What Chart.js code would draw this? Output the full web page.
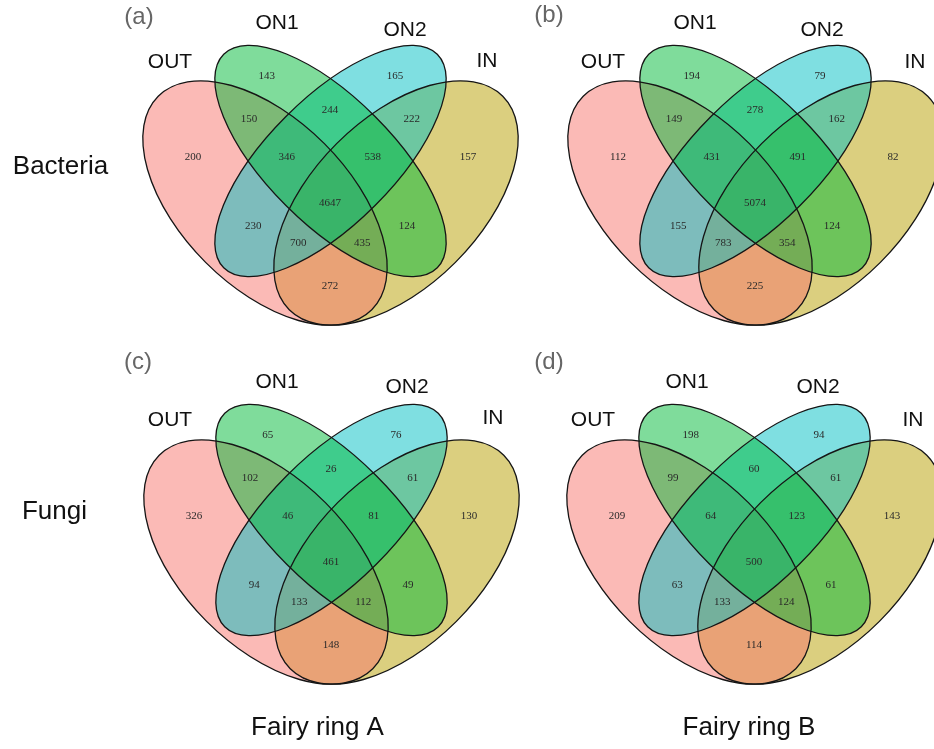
<!DOCTYPE html>
<html><head><meta charset="utf-8">
<script src="https://cdn.jsdelivr.net/npm/chart.js@4.4.1/dist/chart.umd.min.js"></script>
<style>html,body{margin:0;padding:0;background:#fff;}#wrap{position:relative;width:934px;height:749px;}</style>
</head><body><div id="wrap"><canvas id="c" width="934" height="749"></canvas></div>
<script>
// ---------------- data ----------------
const sets = ['OUT', 'ON1', 'ON2', 'IN'];
const regions = ['OUT', 'ON1', 'ON2', 'IN', 'OUT&ON1', 'ON1&ON2', 'ON2&IN',
  'OUT&ON1&ON2', 'ON1&ON2&IN', 'ALL', 'OUT&ON2', 'ON1&IN', 'OUT&ON2&IN', 'OUT&ON1&IN', 'OUT&IN'];
const bacteriaRingA = [200, 143, 165, 157, 150, 244, 222, 346, 538, 4647, 230, 124, 700, 435, 272];
const bacteriaRingB = [112, 194, 79, 82, 149, 278, 162, 431, 491, 5074, 155, 124, 783, 354, 225];
const fungiRingA = [326, 65, 76, 130, 102, 26, 61, 46, 81, 461, 94, 49, 133, 112, 148];
const fungiRingB = [209, 198, 94, 143, 99, 60, 61, 64, 123, 500, 63, 61, 133, 124, 114];
const rowLabels = ['Bacteria', 'Fungi'];
const colLabels = ['Fairy ring A', 'Fairy ring B'];
const panelTags = ['(a)', '(b)', '(c)', '(d)'];
const panelValues = [bacteriaRingA, bacteriaRingB, fungiRingA, fungiRingB];
const setColors = { OUT: '#F8766D', ON1: '#00BA38', ON2: '#00BFC4', IN: '#B79F00' };

// ---------------- layout (pixel units of the hidden 1:1 scales) ----------------
const PANEL_OFFSET = [[0, 0], [425, 0], [1, 359], [424, 359]];
const ELLIPSES = {
  OUT: { cx: 265, cy: 203, a: 151, b: 84, rot: 45 },
  ON1: { cx: 330.5, cy: 161, a: 151, b: 63, rot: 45 },
  ON2: { cx: 330.5, cy: 161, a: 151, b: 63, rot: -45 },
  IN:  { cx: 396, cy: 203, a: 151, b: 84, rot: -45 }
};
const DRAW_ORDER = ['IN', 'OUT', 'ON2', 'ON1'];
const REGION_POS = {
  'OUT': [193, 157.3], 'ON1': [266.7, 76], 'ON2': [395, 76], 'IN': [468, 157.3],
  'OUT&ON1': [249, 119], 'ON1&ON2': [330, 110.5], 'ON2&IN': [411.7, 119],
  'OUT&ON1&ON2': [286.7, 157.3], 'ON1&ON2&IN': [372.7, 157.3], 'ALL': [330, 203.5],
  'OUT&ON2': [253.3, 226], 'ON1&IN': [407, 226], 'OUT&ON2&IN': [298.3, 243],
  'OUT&ON1&IN': [362.3, 243], 'OUT&IN': [330, 286]
};
const SET_LABEL_POS = [
  { OUT: [170, 62], ON1: [277, 23.5], ON2: [405, 30], IN: [487, 61] },
  { OUT: [603, 62], ON1: [695, 23.5], ON2: [822, 30], IN: [915, 62] },
  { OUT: [170, 420], ON1: [277, 382], ON2: [407, 387], IN: [493, 418] },
  { OUT: [593, 420], ON1: [687, 382], ON2: [818, 387], IN: [913, 420] }
];
const TAG_POS = [[139, 17], [549, 15], [138, 362], [549, 362]];
const ROW_POS = [[60.5, 166.5], [54.5, 511.7]];
const COL_POS = [[317.5, 728.3], [749, 728.3]];

const datasets = panelValues.map((vals, p) => ({
  label: panelTags[p],
  data: regions.map((r, i) => ({
    x: PANEL_OFFSET[p][0] + REGION_POS[r][0],
    y: PANEL_OFFSET[p][1] + REGION_POS[r][1],
    v: vals[i]
  })),
  pointRadius: 0, pointHoverRadius: 0, showLine: false
}));

const vennPlugin = {
  id: 'venn',
  beforeDatasetsDraw(chart) {
    const { ctx, scales: { x, y } } = chart;
    const kx = Math.abs(x.getPixelForValue(1) - x.getPixelForValue(0));
    const ky = Math.abs(y.getPixelForValue(1) - y.getPixelForValue(0));
    PANEL_OFFSET.forEach(([ox, oy]) => {
      const path = e => {
        ctx.beginPath();
        ctx.ellipse(x.getPixelForValue(ox + e.cx), y.getPixelForValue(oy + e.cy),
          e.a * kx, e.b * ky, e.rot * Math.PI / 180, 0, 2 * Math.PI);
      };
      ctx.save();
      ctx.globalAlpha = 0.5;
      DRAW_ORDER.forEach(s => { path(ELLIPSES[s]); ctx.fillStyle = setColors[s]; ctx.fill(); });
      ctx.globalAlpha = 1;
      ctx.lineWidth = 1.3;
      ctx.strokeStyle = '#151515';
      DRAW_ORDER.forEach(s => { path(ELLIPSES[s]); ctx.stroke(); });
      ctx.restore();
    });
  },
  afterDatasetsDraw(chart) {
    const { ctx, scales: { x, y } } = chart;
    ctx.save();
    ctx.textAlign = 'center';
    ctx.textBaseline = 'middle';
    ctx.fillStyle = '#2a2a2a';
    ctx.font = '11px "Liberation Serif", "Times New Roman", serif';
    chart.data.datasets.forEach((ds, i) => {
      chart.getDatasetMeta(i).data.forEach((pt, j) => {
        ctx.fillText(String(ds.data[j].v), pt.x, pt.y);
      });
    });
    const px = p => [x.getPixelForValue(p[0]), y.getPixelForValue(p[1])];
    ctx.fillStyle = '#111';
    ctx.font = '21px "Liberation Sans", Arial, sans-serif';
    SET_LABEL_POS.forEach(pos => sets.forEach(s => { const [a, b] = px(pos[s]); ctx.fillText(s, a, b); }));
    ctx.fillStyle = '#666';
    ctx.font = '24px "Liberation Sans", Arial, sans-serif';
    TAG_POS.forEach((p, i) => { const [a, b] = px(p); ctx.fillText(panelTags[i], a, b); });
    ctx.fillStyle = '#111';
    ctx.font = '26px "Liberation Sans", Arial, sans-serif';
    ROW_POS.forEach((p, i) => { const [a, b] = px(p); ctx.fillText(rowLabels[i], a, b); });
    COL_POS.forEach((p, i) => { const [a, b] = px(p); ctx.fillText(colLabels[i], a, b); });
    ctx.restore();
  }
};

new Chart(document.getElementById('c'), {
  type: 'scatter',
  data: { datasets },
  options: {
    responsive: false, devicePixelRatio: 1, animation: false,
    layout: { padding: 0 },
    events: [],
    scales: {
      x: { type: 'linear', min: 0, max: 934, display: false },
      y: { type: 'linear', min: 0, max: 749, reverse: true, display: false }
    },
    plugins: { legend: { display: false }, tooltip: { enabled: false } }
  },
  plugins: [vennPlugin]
});
</script></body></html>
